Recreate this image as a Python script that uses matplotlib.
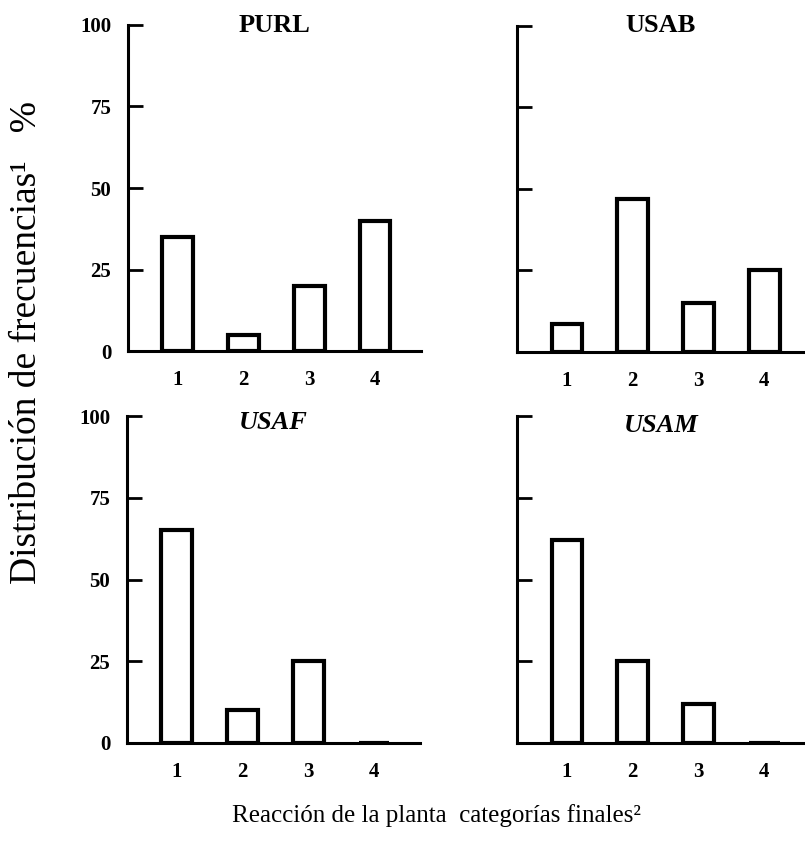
import matplotlib
matplotlib.use("Agg")
import matplotlib.pyplot as plt

categories = [1, 2, 3, 4]
cat_labels = ["1", "2", "3", "4"]
yticks = [0, 25, 50, 75, 100]
purl = [35, 5, 20, 40]
usab = [8.5, 47, 15, 25]
usaf = [65, 10, 25, 0]
usam = [62, 25, 12, 0]
titles = ["PURL", "USAB", "USAF", "USAM"]
ylabel = "Distribución de frecuencias¹   %"
xlabel = "Reacción de la planta  categorías finales²"

plt.rcParams['font.family'] = ['Liberation Serif', 'DejaVu Serif']

W, H = 805, 847
fig = plt.figure(figsize=(W / 100, H / 100), dpi=100)


def px_axes(x0, x1, ytop, ybot):
    return fig.add_axes([x0 / W, 1 - ybot / H, (x1 - x0) / W, (ybot - ytop) / H])


panels = [
    (px_axes(128, 421, 25, 351), purl, titles[0], True, (0.24, 4.70), 'normal', 1.0),
    (px_axes(517, 805, 26, 352), usab, titles[1], False, (0.24, 4.62), 'normal', 1.0),
    (px_axes(127, 420, 416, 743), usaf, titles[2], True, (0.24, 4.70), 'italic', 0.98),
    (px_axes(517, 805, 416, 743), usam, titles[3], False, (0.24, 4.62), 'italic', 0.97),
]

for ax, vals, title, show_y, xl, style, ty in panels:
    ax.bar(categories, vals, width=0.47, facecolor='white', edgecolor='black',
           linewidth=3.0, zorder=3)
    ax.set_xlim(*xl)
    ax.set_ylim(0, 100)
    ax.spines['top'].set_visible(False)
    ax.spines['right'].set_visible(False)
    ax.spines['left'].set_linewidth(2.2)
    ax.spines['bottom'].set_linewidth(2.2)
    ax.spines['left'].set_zorder(4)
    ax.spines['bottom'].set_zorder(4)
    ax.set_yticks(yticks)
    if show_y:
        ax.set_yticklabels([str(v) for v in yticks], fontsize=15, fontweight='bold')
    else:
        ax.set_yticklabels([])
    ax.tick_params(axis='y', direction='in', length=11, width=2.0, pad=12)
    ax.set_xticks(categories)
    ax.set_xticklabels(cat_labels, fontsize=15, fontweight='bold')
    ax.tick_params(axis='x', length=0, pad=14)
    ax.text(0.5, ty, title, transform=ax.transAxes, ha='center', va='center',
            fontsize=19, fontweight='bold', fontstyle=style)
    ax.patch.set_alpha(0)

fig.text(27 / W, 1 - 343 / H, ylabel, rotation=90, ha='center', va='center',
         fontsize=27)
fig.text(436 / W, 1 - 816 / H, xlabel, ha='center', va='center', fontsize=18)

fig.savefig("out.png", dpi=100, facecolor='white')
